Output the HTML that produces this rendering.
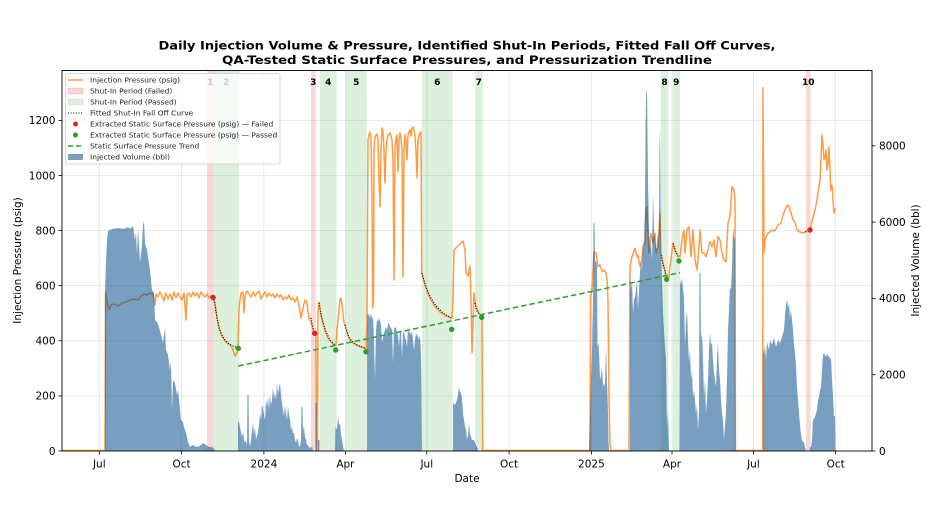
<!DOCTYPE html>
<html><head><meta charset="utf-8"><style>
html,body{margin:0;padding:0;background:#fff}
svg{display:block}
text{font-family:"DejaVu Sans","Liberation Sans",sans-serif}
</style></head><body>
<svg width="934" height="525" viewBox="0 0 934 525" xmlns="http://www.w3.org/2000/svg">
<rect width="934" height="525" fill="#fff"/>
<defs><clipPath id="ax"><rect x="62" y="70.5" width="810" height="380.5"/></clipPath></defs>

<!-- title -->
<text x="467" y="49.5" font-size="11.5" font-weight="bold" text-anchor="middle" textLength="617" lengthAdjust="spacingAndGlyphs">Daily Injection Volume &amp; Pressure, Identified Shut-In Periods, Fitted Fall Off Curves,</text>
<text x="467" y="64" font-size="11.5" font-weight="bold" text-anchor="middle" textLength="490" lengthAdjust="spacingAndGlyphs">QA-Tested Static Surface Pressures, and Pressurization Trendline</text>

<g clip-path="url(#ax)">
<!-- grid -->
<g stroke="#b0b0b0" stroke-opacity="0.35" stroke-width="0.8">
<line x1="99.3" y1="70" x2="99.3" y2="451"/><line x1="181.6" y1="70" x2="181.6" y2="451"/><line x1="263.9" y1="70" x2="263.9" y2="451"/><line x1="345.4" y1="70" x2="345.4" y2="451"/><line x1="426.8" y1="70" x2="426.8" y2="451"/><line x1="509.1" y1="70" x2="509.1" y2="451"/><line x1="591.4" y1="70" x2="591.4" y2="451"/><line x1="672" y1="70" x2="672" y2="451"/><line x1="753.4" y1="70" x2="753.4" y2="451"/><line x1="835.7" y1="70" x2="835.7" y2="451"/>
<line x1="62" y1="395.9" x2="872" y2="395.9"/><line x1="62" y1="340.8" x2="872" y2="340.8"/><line x1="62" y1="285.7" x2="872" y2="285.7"/><line x1="62" y1="230.6" x2="872" y2="230.6"/><line x1="62" y1="175.5" x2="872" y2="175.5"/><line x1="62" y1="120.4" x2="872" y2="120.4"/>
</g>
<!-- shut-in bands -->
<g fill="#d62728" fill-opacity="0.18">
<rect x="207" y="70" width="6.7" height="381"/><rect x="311" y="70" width="4.8" height="381"/><rect x="806" y="70" width="4.7" height="381"/>
</g>
<g fill="#2ca02c" fill-opacity="0.16">
<rect x="213.7" y="70" width="25.3" height="381"/><rect x="320" y="70" width="16.7" height="381"/><rect x="345.7" y="70" width="21" height="381"/><rect x="422" y="70" width="30.7" height="381"/><rect x="475" y="70" width="7.7" height="381"/><rect x="660.7" y="70" width="7.6" height="381"/><rect x="672.7" y="70" width="7.3" height="381"/>
</g>
<!-- band labels -->
<g font-size="9" font-weight="bold" text-anchor="middle" fill="#000">
<text x="210.3" y="85">1</text><text x="226.3" y="85">2</text><text x="313.3" y="85">3</text><text x="328.3" y="85">4</text><text x="356.2" y="85">5</text><text x="437.3" y="85">6</text><text x="478.8" y="85">7</text><text x="664.5" y="85">8</text><text x="676.3" y="85">9</text><text x="808.3" y="85">10</text>
</g>

<!-- pressure line -->
<polyline fill="none" stroke="#ff7f0e" stroke-opacity="0.78" stroke-width="1.5" stroke-linejoin="round" points="
62,450.5 105,450.5 105.5,292 107,300 109,310 111,305 114,304 118,306 122,303 126,302 130,300 134,299 138,300 141,296 144,294 147,295 150,293 153,294 155,305 156,294 158,297 160,292 162,296 164,301 166,293 168,299 170,294 172,300 174,292 176,298 178,293 180,297 182,300 184,293 186,320 187,295 189,293 191,297 193,292 195,296 197,293 199,298 201,292 203,295 205,297 207,294 209,298 211,296 213,297
215,303 217,318 219,328 221,334 223,338 225,341 228,344 231,346 233,350 235,356 237,353 238,345 239,310 240,300 241,293 243,292 244,313 245,296 247,291 249,294 251,297 253,292 255,296 257,293 259,291 261,299 263,295 265,292 267,297 269,293 271,296 273,294 275,298 277,294 279,297 281,295 283,300 285,297 287,299 289,295 291,300 293,298 295,302 297,297 299,305 301,318 303,308 305,300 307,303 309,318 311,322 313,330 315,333 316,335 316.5,450.5 317.5,450.5 318,310 319,302 320,310 322,320 324,327 326,333 328,338 330,341 332,343 334,345 336,345 337,330 339,310 340,300 341,298 342,305 344,323 345,325 347,333 349,338 351,341 353,343 356,345 359,346 362,347 365,348 366,350
367,320 368,140 369,135 370,132 371,138 372,200 372.7,308 373.5,300 374,150 375,137 377,134 378,140 379,180 380,207 381,150 382,128 383,132 384,150 385,183 386,150 387,140 388,135 390,133 392,140 393,160 394,280 395,150 396,138 397,135 398,172 399,140 400,133 401,138 402,150 403,277 404,150 405,135 406,140 407,160 408,135 409,132 410,130 411,136 412,128 413,127 414,130 415,137 416,150 417,178 418,140 419,135 420,133 421,132 421.7,273
425,285 428,294 431,300 434,305 437,309 440,312 443,314 446,316 449,317 452,318 453,300 454,250 456,248 458,246 460,244 463,241 465,250 466,273 468,276 470,266 471,300 472,353 473,320 474,293 475,303 477,309 479,313 481,316 482,317 482.7,450.5 590,450.5
590.5,296.7 592,290 593,270 594,251.7 596,253 598,266.7 600,265 602,271.7 604,270 606,273 607,280 608,300 609,400 610,445 611,450.5 629,450.5 630,266.7 632,256.7 635,248.3 637,257 638,255 640,266.7 642,260 643,246.7 645,243 646,210 647,206.7 648,236.7 649,253.3 651,233.3 653,243 655,233.3 656,253 658,246.7 660,213 661,253 663,263 665,271 666,276.7 667,280 669,276.7 670,266.7 673,243.3 675,250 677,254 678.3,256.7 680,256.7 682,240 684,230 685,253 687,230 689,226.7 691,256.7 693,230 695,260 697,270 699,246.7 700,230 702,253 704,253 706,256.7 708,250 710,241.7 712,246.7 714,240 716,256.7 718,236.7 720,240 722,253.3 724,260 726,261.7 728,223.3 730,216.7 732,186.7 734,190 735,200 735.5,450.5 762.7,450.5
763,88 764,253 765,240 766,237 768,233 770,232 772,230 774,231 776,229 778,225 780,224 781,223 783,215 785,210 787,206 788,205 790,210 791,213 793,220 795,222 797,230 800,232 803,233 805,232 808,230 810,230 812,221 814,214 815,210 817,200 818,193 820,180 821,160 822,135 823,145 824,160 825,158 826,150 827,170 828,165 829,147 830,170 830.7,190 831.5,185 832.3,187 833,200 834,213 835,208"/>

<!-- fall off curves -->
<g fill="none" stroke="#000" stroke-width="1.1" stroke-dasharray="1 1.6">
<polyline points="213,297 215,305 217,318 219,327 221,333 223,337 225,340 228,343 231,345 234,346.5 238,348"/>
<polyline points="311,318 312,324 313,328 314,331 315,333"/>
<polyline points="319,303 321,314 323,322 325,329 327,334 329,338 331,341 333,343 335,345"/>
<polyline points="345,325 347,332 349,337 351,340 354,343 357,345 360,346.5 365,348"/>
<polyline points="422,273 425,284 428,292 431,298 434,303 437,307 440,310 443,313 446,315 449,316.5 451,318"/>
<polyline points="475,303 476,308 477,311 479,314 481,316"/>
<polyline points="661,255 662.5,262 664,268 665.5,273 666.7,276.7"/>
<polyline points="673.3,243.3 674.5,248 676,252.5 678.3,256.7"/>
<polyline points="805,232 807.5,231 810,230"/>
</g>

<!-- volume bars (envelope) -->
<g fill="#0a508c" fill-opacity="0.55">
<polygon points="105,451 105,290 106,262 107,240 108,231 112,229 118,228 124,229 128,227 130,229 133,226 135,240 136,232 137,255 138,228 140,262 142,245 143,225 144,221 145,243 147,250 148,257 150,270 152,290 154,293 155,320 157,322 159,327 161,335 163,343 165,328 166,350 168,355 170,370 171,362 172,410 173,380 175,383 177,395 178,390 180,410 181,420 183,422 184,427 186,433 188,442 190,447 193,445 196,447 200,446 203,443 206,445 209,447 212,447 214,449 215,451"/>
<polygon points="238,451 238,422 239,421.7 240,426.7 241,433 242,436.7 243,431.7 244,440 245,443 246,440 247,446 247.5,395 248.5,395 249,440 250,446.7 251,440 252,430 253,423 254,435 255,426.7 256,440 257,436 258,433 259,425 260,413 261,420 262,405 263,408 264,415 265,420 266,400 267,407 268,396.7 269,410 270,395 271,405 272,400 273,386.7 274,398 275,393 276,400 277,383.3 278,395 279,386.7 280,383.3 281,395 282,403 283,410 284,416.7 285,405 286,413 287,420 288,406.7 289,415 290,420 291,430 292,426.7 293,433 294,433 295,440 296,443 297,438 298,440 299,446 300,446.7 301,440 301.5,406.7 302.5,406.7 303,430 304,426.7 305,436.7 306,440 307,445 308,445 309,448 310,446 311,449 312,446 313,451"/>
<polygon points="315.5,451 315.5,403 316.8,403 316.8,451"/>
<polygon points="318,451 318,440 319.5,440 319.5,451"/>
<polygon points="335,451 335.5,426.7 337,430 338,416.7 339,425 340,423 341,435 342,440 343,446 344,451"/>
<polygon points="367,451 367,330 367.5,313 369,315 370,318 371,313 372,320 373,316 374,340 375,380 376,330 377,320 378,322 379,318 380,321 381,325 382,343 383,338 384,333 385,330 386,326.7 387,330 388,324 389,323 390,326.7 391,328 392,330 393,363 394,330 395,326.7 396,328 397,333 398,336 399,346.7 400,330 401,333 402,356.7 403,335 404,330 405,338 406,340 407,346.7 408,326.7 409,333 410,331.7 411,335 412,330 413,340 414,350 415,340 416,333.3 417,335 418,336.7 419,340 420,335 421,355 421.5,387 422,451"/>
<polygon points="453,451 453,403 455,405 457,400 458,395 459,386.7 460,392 461,393.3 462,398 463,413.3 464,420 465,426.7 466,430 467,440 468,435 469,423 470,435 471,436.7 472,440 474,440 476,445 477,446.7 478,451"/>
<polygon points="589,451 590,420 591,380 592,350 593,300 593.5,223 594.5,223 595,262 596,260 597,266.7 597.5,346.7 598.5,343 599,350 600,380 601,375 602,366.7 603,386.7 604,383 605,386.7 606,346.7 607,380 608,413 608.5,440 609,451"/>
<polygon points="630,451 630,273 631,290 632,280 633,313 634,300 635,296.7 636,290 637,280 638,310 639,290 640,273 641,260 642,270 643,240 644,250 645,203 645.5,130 646,96.7 647,88 648,180 649,230 650,250 651,243 652,260 653,193 654,230 655,240 656,246.7 657,250 658,230 659,240 659.5,150 660,128 661,253 662,280 663,313 664,330 665,346.7 666,360 667,430 668,410 669,451"/>
<polygon points="679.5,451 680,280 681,285 682,277 683,290 684,296.7 685,346.7 686,320 687,310 688,340 689,363 690,350 691,380 692,370 693,396.7 694,390 695,400 696,413 697,405 698,430 699,410 699.5,273 700.5,273 701,340 702,333 703,360 704,396.7 705,380 706,413 707,400 708,380 709,350 710,333 711,345 712,343 713,360 714,373 715,380 716,386.7 717,360 718,343 719,370 720,380 721,400 722,413 723,420 724,440 725,425 726,413 727,380 728,330 729,310 730,287 731,290 732,266.7 733,226.7 734,236.7 735,240 735.5,451"/>
<polygon points="763,451 763,347 764,355 765,345 766,360 767,342 769,350 770,340 772,345 774,338 776,347 778,340 780,343 782,337 784,330 785,315 786,305 787,300 788,308 789,303 790,318 791,310 792,320 793,330 794,345 795,353 796,365 797,387 798,400 799,413 800,425 801,435 802,440 804,443 805,447 806,451"/>
<polygon points="809.5,451 810,447 811,447 812,440 813,420 815,417 817,410 818,400 819,397 820,390 821,387 822,370 823,355 824,353 826,357 827,353 828,357 829,355 830,360 831,357 832,380 833,395 834,417 835,415 835.5,451"/>
</g>

<!-- trend line -->
<line x1="238.3" y1="366" x2="680" y2="272.7" stroke="#2ca02c" stroke-width="1.5" stroke-dasharray="5.5 3"/>
<!-- static pressure points -->
<g fill="#d62728"><circle cx="213" cy="297.3" r="2.7"/><circle cx="314.7" cy="333.3" r="2.7"/><circle cx="810" cy="230" r="2.7"/></g>
<g fill="#2ca02c"><circle cx="238.3" cy="348.3" r="2.7"/><circle cx="335.7" cy="350" r="2.7"/><circle cx="366" cy="351.7" r="2.7"/><circle cx="451.7" cy="329.3" r="2.7"/><circle cx="481.7" cy="317.3" r="2.7"/><circle cx="666.7" cy="279.3" r="2.7"/><circle cx="679" cy="261" r="2.7"/></g>
</g>

<!-- legend -->
<rect x="65.5" y="73.5" width="214.5" height="90.5" rx="2" fill="#fff" fill-opacity="0.8" stroke="#cccccc" stroke-width="0.8"/>
<line x1="68" y1="80" x2="83" y2="80" stroke="#ff7f0e" stroke-opacity="0.78" stroke-width="1.5"/>
<rect x="68" y="88" width="15" height="6" fill="#d62728" fill-opacity="0.18" stroke="#d62728" stroke-opacity="0.25" stroke-width="0.6"/>
<rect x="68" y="99" width="15" height="6" fill="#2ca02c" fill-opacity="0.16" stroke="#2ca02c" stroke-opacity="0.2" stroke-width="0.6"/>
<line x1="68" y1="113" x2="83" y2="113" stroke="#000" stroke-width="1.1" stroke-dasharray="1 1.6"/>
<circle cx="75.5" cy="124" r="2.5" fill="#d62728"/>
<circle cx="75.5" cy="135" r="2.5" fill="#2ca02c"/>
<line x1="68" y1="146" x2="83" y2="146" stroke="#2ca02c" stroke-width="1.5" stroke-dasharray="5 3"/>
<rect x="68" y="154" width="15" height="6" fill="#0a508c" fill-opacity="0.55"/>
<g font-size="7.3" fill="#222">
<text x="90" y="82.6" textLength="90" lengthAdjust="spacingAndGlyphs">Injection Pressure (psig)</text>
<text x="90" y="93.6" textLength="82.3" lengthAdjust="spacingAndGlyphs">Shut-In Period (Failed)</text>
<text x="90" y="104.6" textLength="86.7" lengthAdjust="spacingAndGlyphs">Shut-In Period (Passed)</text>
<text x="90" y="115.6" textLength="103.3" lengthAdjust="spacingAndGlyphs">Fitted Shut-In Fall Off Curve</text>
<text x="90" y="126.6" textLength="183.3" lengthAdjust="spacingAndGlyphs">Extracted Static Surface Pressure (psig) — Failed</text>
<text x="90" y="137.6" textLength="187.3" lengthAdjust="spacingAndGlyphs">Extracted Static Surface Pressure (psig) — Passed</text>
<text x="90" y="148.6" textLength="109.3" lengthAdjust="spacingAndGlyphs">Static Surface Pressure Trend</text>
<text x="90" y="159.6" textLength="80" lengthAdjust="spacingAndGlyphs">Injected Volume (bbl)</text>
</g>

<!-- axes frame -->
<rect x="62" y="70.5" width="810" height="380.5" fill="none" stroke="#000" stroke-width="0.9"/>
<!-- ticks -->
<g stroke="#000" stroke-width="0.8">
<line x1="58.5" y1="451" x2="62" y2="451"/><line x1="58.5" y1="395.9" x2="62" y2="395.9"/><line x1="58.5" y1="340.8" x2="62" y2="340.8"/><line x1="58.5" y1="285.7" x2="62" y2="285.7"/><line x1="58.5" y1="230.6" x2="62" y2="230.6"/><line x1="58.5" y1="175.5" x2="62" y2="175.5"/><line x1="58.5" y1="120.4" x2="62" y2="120.4"/>
<line x1="872" y1="451" x2="875.5" y2="451"/><line x1="872" y1="374.7" x2="875.5" y2="374.7"/><line x1="872" y1="298.4" x2="875.5" y2="298.4"/><line x1="872" y1="222.1" x2="875.5" y2="222.1"/><line x1="872" y1="145.8" x2="875.5" y2="145.8"/>
<line x1="99.3" y1="451" x2="99.3" y2="454.5"/><line x1="181.6" y1="451" x2="181.6" y2="454.5"/><line x1="263.9" y1="451" x2="263.9" y2="454.5"/><line x1="345.4" y1="451" x2="345.4" y2="454.5"/><line x1="426.8" y1="451" x2="426.8" y2="454.5"/><line x1="509.1" y1="451" x2="509.1" y2="454.5"/><line x1="591.4" y1="451" x2="591.4" y2="454.5"/><line x1="672" y1="451" x2="672" y2="454.5"/><line x1="753.4" y1="451" x2="753.4" y2="454.5"/><line x1="835.7" y1="451" x2="835.7" y2="454.5"/>
</g>
<g font-size="10.5" fill="#000">
<g text-anchor="end">
<text x="55.5" y="454.8">0</text><text x="55.5" y="399.7">200</text><text x="55.5" y="344.6">400</text><text x="55.5" y="289.5">600</text><text x="55.5" y="234.4">800</text><text x="55.5" y="179.3">1000</text><text x="55.5" y="124.2">1200</text>
</g>
<g text-anchor="start">
<text x="879" y="454.8">0</text><text x="879" y="378.5">2000</text><text x="879" y="302.2">4000</text><text x="879" y="225.9">6000</text><text x="879" y="149.6">8000</text>
</g>
<g text-anchor="middle">
<text x="99.3" y="467.5">Jul</text><text x="181.6" y="467.5">Oct</text><text x="263.9" y="467.5">2024</text><text x="345.4" y="467.5">Apr</text><text x="426.8" y="467.5">Jul</text><text x="509.1" y="467.5">Oct</text><text x="591.4" y="467.5">2025</text><text x="672" y="467.5">Apr</text><text x="753.4" y="467.5">Jul</text><text x="835.7" y="467.5">Oct</text>
</g>
<text x="467" y="482" text-anchor="middle">Date</text>
<text transform="translate(21,260.5) rotate(-90)" text-anchor="middle">Injection Pressure (psig)</text>
<text transform="translate(919,260.5) rotate(-90)" text-anchor="middle">Injected Volume (bbl)</text>
</g>
</svg>
</body></html>
